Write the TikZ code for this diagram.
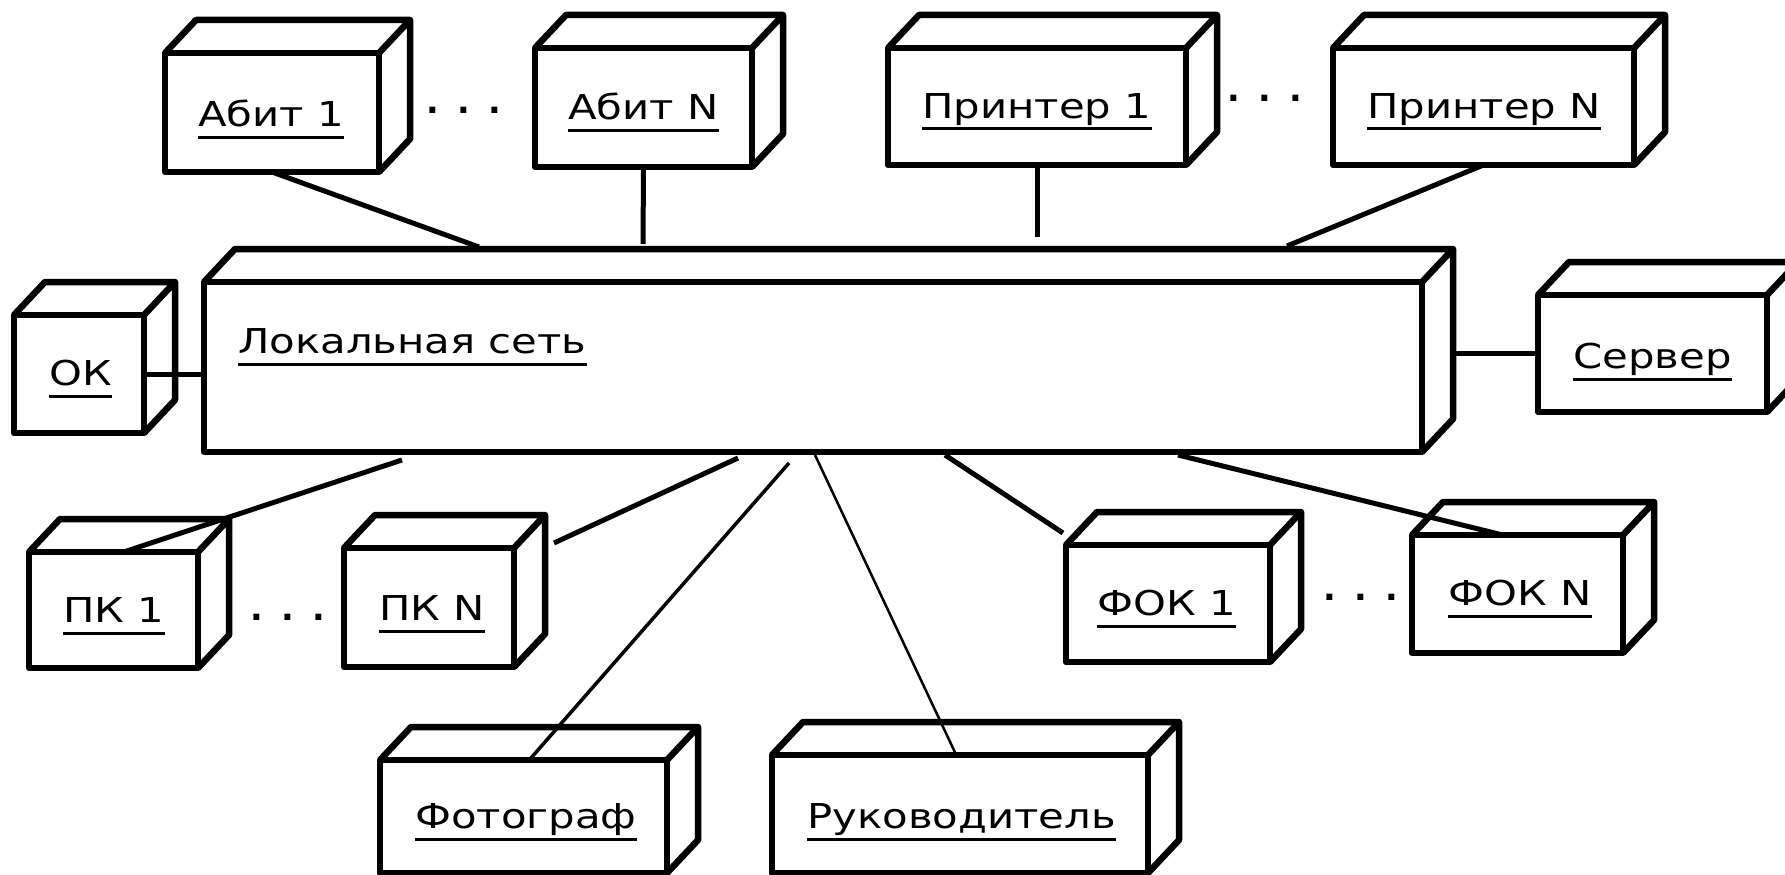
\documentclass[tikz,border=0pt]{standalone}
\usepackage{fontspec}
\setmainfont{DejaVu Sans}
\newfontfamily\lblfont[FakeStretch=1.22]{DejaVu Sans}
\newfontfamily\dotfont{DejaVu Sans Bold}
\usetikzlibrary{calc}
\newcommand\dx{31}
\newcommand\dy{33}
\tikzset{
  box/.style={draw, fill=white, line width=0.13cm, line join=round, rectangle, inner sep=0pt, outer sep=0pt},
  boxline/.style={line width=0.13cm, line join=round},
  conn/.style={line width=0.1cm},
  connmid/.style={line width=0.07cm},
  connthin/.style={line width=0.05cm},
  lbl/.style={font=\lblfont\fontsize{19.5pt}{20pt}\selectfont, inner sep=0pt, anchor=base west},
  dotsep/.style={font=\dotfont\fontsize{19pt}{19pt}\selectfont, inner sep=0pt, anchor=center},
  uline/.style={line width=0.06cm}
}
\newcommand\dbox[5]{%
  \node[box, minimum width={(#4-#2)*0.02cm}, minimum height={(#5-#3)*0.02cm}] (#1) at ({(#2+#4)/2},{(#3+#5)/2}) {};
  \draw[boxline] (#1.north west) -- ++(\dx,-\dy) coordinate (#1-bnw)
    -- ([shift={(\dx,-\dy)}]#1.north east) coordinate (#1-bne)
    -- ([shift={(\dx,-\dy)}]#1.south east) coordinate (#1-bse)
    -- (#1.south east)
    (#1.north east) -- (#1-bne);
}
\newcommand\threedots{.\hspace{0.36cm}.\hspace{0.36cm}.}
\begin{document}
\begin{tikzpicture}[x=0.02cm, y=-0.02cm]
\useasboundingbox[fill=white] (0,0) rectangle (1785,875);
% boxes
\dbox{a1}{165}{53}{379}{172}
\dbox{aN}{535}{48}{752}{167}
\dbox{p1}{888}{48}{1186}{165}
\dbox{pN}{1333}{48}{1634}{165}
\dbox{ok}{14}{315}{144}{433}
\dbox{net}{204}{282}{1422}{452}
\dbox{srv}{1538}{295}{1767}{412}
\dbox{pc1}{29}{552}{198}{668}
\dbox{pcN}{344}{548}{514}{667}
\dbox{foto}{380}{760}{667}{873}
\dbox{ruk}{772}{755}{1148}{873}
\dbox{fok1}{1066}{545}{1270}{662}
\dbox{fokN}{1412}{535}{1623}{653}
% labels
\node[lbl] (ta1) at (198,127) {Абит 1};
\node[lbl] (taN) at (568,120) {Абит N};
\node[lbl] (tp1) at (922,118) {Принтер 1};
\node[lbl] (tpN) at (1367,118) {Принтер N};
\node[lbl] (tok) at (49,385) {ОК};
\node[lbl] (tnet) at (238,353) {Локальная сеть};
\node[lbl] (tsrv) at (1573,368) {Сервер};
\node[lbl] (tpc1) at (63,622) {ПК 1};
\node[lbl] (tpcN) at (379,620) {ПК N};
\node[lbl] (tfoto) at (415,828) {Фотограф};
\node[lbl] (truk) at (807,828) {Руководитель};
\node[lbl] (tfok1) at (1097,615) {ФОК 1};
\node[lbl] (tfokN) at (1448,605) {ФОК N};
\foreach \n in {ta1,taN,tp1,tpN,tok,tnet,tsrv,tpc1,tpcN,tfoto,truk,tfok1,tfokN}
  \draw[uline] ([yshift=-0.22cm]\n.base west) -- ([yshift=-0.22cm]\n.base east);
% dots
\node[dotsep] (d1) at (464,110) {\threedots};
\node[dotsep] (d2) at (1265,98) {\threedots};
\node[dotsep] (d3) at (288,617) {\threedots};
\node[dotsep] (d4) at (1361,597) {\threedots};
% connectors
\draw[conn] (a1.south) -- ([shift={(275,-35)}]net.north west);
\draw[conn] (aN.south) -- ([shift={(439,-38)}]net.north west);
\draw[conn] (p1.south) -- ([shift={(833,-45)}]net.north west);
\draw[conn] (pN.south) -- ([shift={(1083,-36)}]net.north west);
\draw[conn] (ok.east) -- (net.west |- ok.east);
\draw[conn] (net-bne |- srv.west) -- (srv.west);
\draw[conn] ([shift={(198,8)}]net.south west) -- ($(pc1.north west)!0.56!(pc1.north east)$);
\draw[conn] ([shift={(534,6)}]net.south west) -- ([shift={(40,-5)}]pcN.north east);
\draw[connmid] ([shift={(585,11)}]net.south west) -- ($(foto.north west)!0.52!(foto.north east)$);
\draw[connthin] ([shift={(611,3)}]net.south west) -- ($(ruk.north west)!0.49!(ruk.north east)$);
\draw[conn] ([shift={(741,3)}]net.south west) -- ([shift={(-3,-12)}]fok1.north west);
\draw[conn] ([shift={(974,3)}]net.south west) -- ($(fokN.north west)!0.43!(fokN.north east)$);
\end{tikzpicture}
\end{document}
